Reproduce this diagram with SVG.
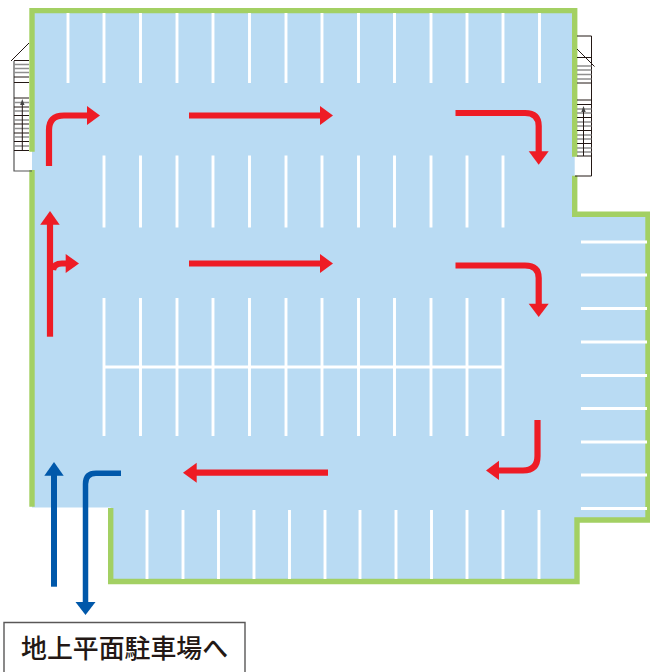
<svg xmlns="http://www.w3.org/2000/svg" width="650" height="672" viewBox="0 0 650 672">
<style>
.floor{fill:#b9dbf3;stroke:none}
.wall{fill:none;stroke:#a3d063;stroke-width:5.4;stroke-linejoin:miter}
.bay{fill:none;stroke:#fff;stroke-width:2.9}
.tread{stroke:#231815;stroke-width:1}
.treadg{stroke:#8f8f8f;stroke-width:1.4}
.frame{fill:none;stroke:#231815;stroke-width:1}
.red{fill:none;stroke:#ee1c25;stroke-width:6.200}
.blue{fill:none;stroke:#0058aa;stroke-width:5.500}
.rh{fill:#ee1c25}.bh{fill:#0058aa}
.label{font-family:"Noto Sans CJK JP","Noto Sans",sans-serif;font-size:25.9px;font-weight:500;fill:#231815}
</style>
<g id="floor">
<path class="floor" d="M32 10.600H574.700V214.300H648.500V520H577V581.500H110.700V507.500H32Z"/>
<path class="wall" d="M32 151.700V10.600H574.700V156.700M574.700 175.700V214.300H648V520H577V581.500H110.700V508M32 170V506.700"/>
</g>
<g id="parking-bays">
<path class="bay" d="M68 13V83M104 13V83M140.500 13V83M177 13V83M213 13V83M249.500 13V83M286 13V83M322 13V83M358.500 13V83M394.500 13V83M431 13V83M467 13V83M503 13V83M539.500 13V83"/>
<path class="bay" d="M104 155.500V227.500M140.500 155.500V227.500M177 155.500V227.500M213 155.500V227.500M249.500 155.500V227.500M286 155.500V227.500M322 155.500V227.500M358.500 155.500V227.500M394.500 155.500V227.500M431 155.500V227.500M467 155.500V227.500M503 155.500V227.500"/>
<path class="bay" d="M104 298V436M140.500 298V436M177 298V436M213 298V436M249.500 298V436M286 298V436M322 298V436M358.500 298V436M394.500 298V436M431 298V436M467 298V436M503 298V436M104 367H503"/>
<path class="bay" d="M147 510V579M183 510V579M218.500 510V579M254 510V579M289.500 510V579M325 510V579M360 510V579M396 510V579M431.500 510V579M467 510V579M503 510V579M539 510V579"/>
<path class="bay" d="M581 242H647M581 275H647M581 308.500H647M581 342H647M581 375.500H647M581 408.500H647M581 442H647M581 475H647M581 508.500H647"/>
</g>
<g id="stairs-left">
<path d="M14 61V171H32" fill="none" stroke="#555" stroke-width="1.200"/>
<path class="frame" d="M11 61L29 43"/>
<path class="tread" d="M14 60.500H29M14 77H29M14 82.500H29M14 98H29M14 107H29M14 115.500H29M14 124H29M14 133H29M14 141.500H29M14 150.500H29"/>
<path class="treadg" d="M14 64.500H29M14 68.500H29M14 72.500H29M14 102.500H29M14 111H29M14 120H29M14 128.500H29M14 137H29M14 146H29"/>
<path class="frame" d="M22.300 150.500V103"/><path fill="#444" d="M22.300 99l2.200 6h-4.400z"/>
</g>
<g id="stairs-right">
<path class="frame" d="M577 36H591.500V176H575M577 49L594.500 66.500"/>
<path class="tread" d="M577 57.500H591.500M577 83H591.500M577 100H591.500M577 104.500H591.500M577 117.500H591.500M577 130.500H591.500M577 143.500H591.500M577 156H591.500"/>
<path class="treadg" d="M577 66H591.500M577 70H591.500M577 74.500H591.500M577 79H591.500M577 109H591.500M577 113H591.500M577 122H591.500M577 126H591.500M577 135H591.500M577 139H591.500M577 148H591.500M577 152H591.500"/>
<path class="frame" d="M583.500 156V110"/><path fill="#444" d="M583.500 106l2.200 6h-4.400z"/>
</g>
<g id="connectors">
<path class="red" d="M49 166V130Q49 115.500 64 115.500H88"/><path class="rh" d="M87 106L100 115.500L87 125Z"/>
<path class="red" d="M189 115.500H321"/><path class="rh" d="M320 106L333 115.500L320 125Z"/>
<path class="red" d="M455.500 113H525Q538.700 113 538.700 126V152"/><path class="rh" d="M528.700 151.300L538.700 164.700L548.700 151.300Z"/>
<path class="red" d="M189 263.500H321"/><path class="rh" d="M320 254L333 263.500L320 273Z"/>
<path class="red" d="M455.500 265.500H525Q538.700 265.500 538.700 278V305"/><path class="rh" d="M528.700 303.700L538.700 317L548.700 303.700Z"/>
<path class="red" d="M50 336.700V223"/><path class="rh" d="M40.200 224.700L50 211L59.700 224.700Z"/>
<path class="red" d="M53 270Q54 263.500 62 263.500H67"/><path class="rh" d="M65.700 254L79 263.500L65.700 273Z"/>
<path class="red" d="M537.500 420V456Q537.500 470.500 523 470.500H498"/><path class="rh" d="M499 460.700L486 470.500L499 480Z"/>
<path class="red" d="M328 472.700H196"/><path class="rh" d="M196.700 462.700L183 472.700L196.700 482.700Z"/>
<path class="blue" d="M54 586.700V475" style="stroke-width:6"/><path class="bh" d="M44.300 475.700L54 462L63.700 475.700Z"/>
<path class="blue" d="M121 473.300H96Q85.500 473.300 85.500 484V603"/><path class="bh" d="M75.500 602L85.500 615L95.500 602Z"/>
</g>
<g id="label">
<path d="M4 672V622.500H245V672" fill="#fff" stroke="#595757" stroke-width="1.400"/>
<text class="label" x="21" y="658">地上平面駐車場へ</text>
</g>
</svg>
